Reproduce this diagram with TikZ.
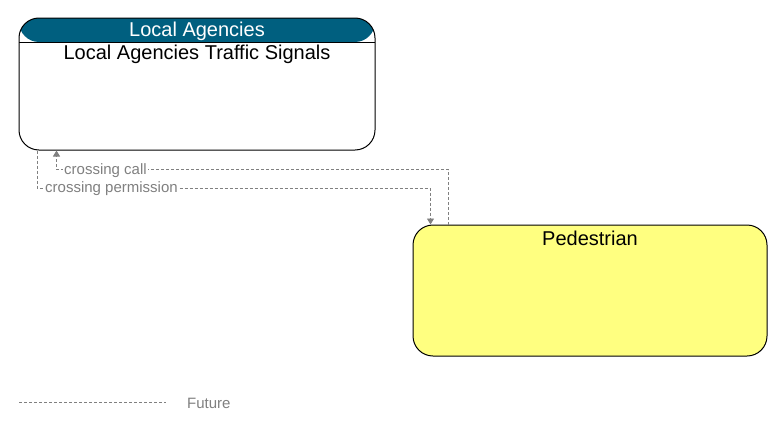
\documentclass[tikz,border=0pt]{standalone}
\usepackage{fontspec}
\setmainfont{Liberation Sans}
\usetikzlibrary{arrows.meta}
\definecolor{hdrteal}{RGB}{0,95,127}
\definecolor{pedyellow}{RGB}{255,255,128}
\definecolor{flowgray}{RGB}{128,128,128}
\tikzset{
	elem/.style={draw=black, line width=1pt, rounded corners=20pt, inner sep=0pt},
	flow/.style={draw=flowgray, line width=0.9pt, dash pattern=on 3pt off 2pt},
	tip/.style={-{Triangle[width=7pt,length=6pt]}},
	flowlabel/.style={text=flowgray, fill=white, inner sep=1pt, font=\fontsize{15}{17}\selectfont},
	title/.style={font=\fontsize{20}{22}\selectfont}
}
\begin{document}
\begin{tikzpicture}[x=1pt,y=-1pt]
			\useasboundingbox (0,0) rectangle (783,431);
			
			%elements
			\node[elem, minimum width=356pt, minimum height=132pt,
				path picture={\fill[hdrteal] (path picture bounding box.north west) rectangle ([yshift=-24pt]path picture bounding box.north east);
					\draw[line width=1pt] ([yshift=-24pt]path picture bounding box.north west) -- ([yshift=-24pt]path picture bounding box.north east);}]
				(lats) at (197,84){};
			\node[title, text=white] (latshdr) at (197,31){Local Agencies};
			\node[title] (latsname) at (197,54.5){Local Agencies Traffic Signals};
			
			\node[elem, fill=pedyellow, minimum width=354pt, minimum height=131pt] (ped) at (590,290.5){};
			\node[title] (pedname) at (590,238.5){Pedestrian};
			
			%flows
			\draw[flow, tip, flowgray] ([xshift=36pt]ped.north west) -- ++(0,-55) -| ([xshift=38pt]lats.south west);
			\node[flowlabel, anchor=west] (call) at (63,171){crossing call};
			
			\draw[flow, tip, flowgray] ([xshift=19pt]lats.south west) -- ++(0,38) -| ([xshift=18pt]ped.north west);
			\node[flowlabel, anchor=west] (perm) at (44,189){crossing permission};
			
			%legend
			\coordinate (lgstart) at (19,402);
			\coordinate (lgend) at (166,402);
			\draw[flow] (lgstart) -- (lgend);
			\node[flowlabel, anchor=west] (future) at (186,403){Future};
		\end{tikzpicture}
\end{document}
